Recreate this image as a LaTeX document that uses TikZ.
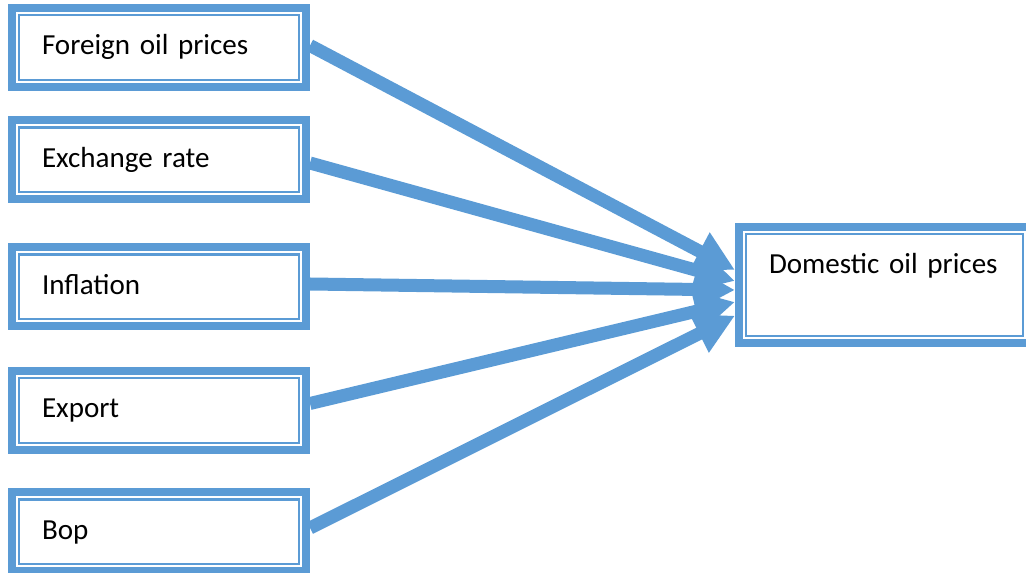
\documentclass[tikz,border=0pt]{standalone}
\usepackage{fontspec}
\setmainfont{Carlito}[WordSpace=0.85]
\usetikzlibrary{arrows.meta}
\definecolor{ob}{HTML}{5B9BD5}
\tikzset{bx/.style={draw=ob,line width=6pt,minimum width=220.5pt,minimum height=59.25pt,inner xsep=22.5pt,text width=175.5pt,align=left,text height=16.5pt,text depth=5.25pt,font=\fontsize{21.8}{26}\selectfont,path picture={\draw[ob,line width=1.8pt]([shift={(5.4pt,5.4pt)}]path picture bounding box.south west)rectangle([shift={(-5.4pt,-5.4pt)}]path picture bounding box.north east);}},arr/.style={ob,line width=9.75pt,-{Triangle[length=30pt,width=30pt]}}}
\begin{document}
\begin{tikzpicture}[x=0.75pt,y=-0.75pt]
\useasboundingbox(0,0)rectangle(1026,573);
\node[bx](fo)at(159,47.5){Foreign oil prices};
\node[bx](ex)at(159,160){Exchange rate};
\node[bx](inf)at(159,287){Inflation};
\node[bx](xp)at(159,410.5){Export};
\node[bx](bp)at(159,532){Bop};
\node[bx,minimum width=218.25pt,text width=173.25pt,inner ysep=7.5pt,text height=27.75pt,text depth=44.25pt](dm)at(884.5,285){Domestic oil prices};
\draw[arr]([yshift=1.5pt]fo.east)--([yshift=11.25pt]dm.west);
\draw[arr]([yshift=-2.25pt]ex.east)--([yshift=3pt]dm.west);
\draw[arr]([yshift=2.25pt]inf.east)--([yshift=-3.75pt]dm.west);
\draw[arr]([yshift=5.25pt]xp.east)--([yshift=-12.75pt]dm.west);
\draw[arr]([yshift=3pt]bp.east)--([yshift=-23pt]dm.west);
\end{tikzpicture}
\end{document}
